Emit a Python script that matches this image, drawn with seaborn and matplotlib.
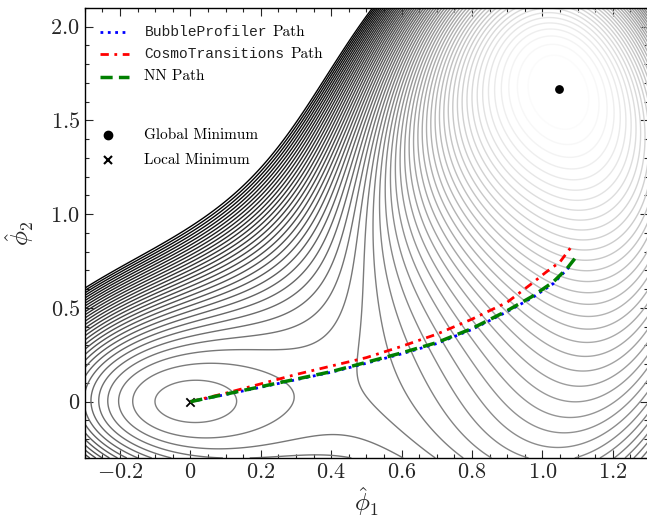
import numpy as np
import matplotlib
matplotlib.use("Agg")
import matplotlib.pyplot as plt
from matplotlib.ticker import MultipleLocator, FuncFormatter
from matplotlib.lines import Line2D
from matplotlib.offsetbox import AnchoredOffsetbox, VPacker, HPacker, TextArea, DrawingArea
import seaborn as sns

# --- potential parameters (V = (p1^2 + p2^2) * (a (p1-1)^2 + b (p2-1)^2 - delta)) ---
coef_a = 1.8
coef_b = 0.2
delta = 0.4

# --- tunnelling paths ---
bubble_x = [0, 0.1, 0.2, 0.3, 0.4, 0.5, 0.6, 0.7, 0.8, 0.9, 0.97, 1.03, 1.08]
bubble_y = [0, 0.038, 0.077, 0.117, 0.157, 0.205, 0.255, 0.31, 0.385, 0.48, 0.553, 0.628, 0.725]

cosmo_x = [0, 0.1, 0.2, 0.3, 0.4, 0.5, 0.6, 0.7, 0.8, 0.9, 0.97, 1.01, 1.05, 1.08]
cosmo_y = [0, 0.045, 0.095, 0.145, 0.19, 0.235, 0.295, 0.36, 0.44, 0.53, 0.63, 0.69, 0.745, 0.82]

nn_x = [0, 0.1, 0.2, 0.3, 0.4, 0.5, 0.6, 0.7, 0.8, 0.9, 0.97, 1.03, 1.07, 1.093]
nn_y = [0, 0.04, 0.08, 0.12, 0.16, 0.21, 0.26, 0.315, 0.39, 0.485, 0.56, 0.637, 0.71, 0.765]

global_min = (1.046, 1.665)
local_min = (0.0, 0.0)

sns.set_theme(style="ticks")
plt.rcParams["font.family"] = ["serif"]
plt.rcParams["font.serif"] = ["cmr10", "DejaVu Serif"]
plt.rcParams["mathtext.fontset"] = "cm"
plt.rcParams["axes.unicode_minus"] = False

fig, ax = plt.subplots(figsize=(6.47, 5.21), dpi=100)
fig.subplots_adjust(left=0.131, right=1.0015, top=0.985, bottom=0.121)

# contour field
g1 = np.linspace(-0.3, 1.3, 500)
g2 = np.linspace(-0.3, 2.1, 600)
P1, P2 = np.meshgrid(g1, g2)
V = (P1**2 + P2**2) * (coef_a * (P1 - 1)**2 + coef_b * (P2 - 1)**2 - delta)
levels = np.arange(-1.18, 1.23, 0.04)
ax.contour(P1, P2, V, levels=levels, cmap="gray_r", linewidths=1.0)

# paths
blue_ls = ":"
red_ls = (0, (3, 2, 1, 2))
green_ls = (0, (3.5, 1.8))
sns.lineplot(x=bubble_x, y=bubble_y, ax=ax, color="blue", linestyle=blue_ls, lw=2, sort=False, zorder=3)
sns.lineplot(x=cosmo_x, y=cosmo_y, ax=ax, color="red", linestyle=red_ls, lw=2, sort=False, zorder=3)
sns.lineplot(x=nn_x, y=nn_y, ax=ax, color="green", linestyle=green_ls, lw=2.5, sort=False, zorder=4)

# minima
ax.scatter([global_min[0]], [global_min[1]], color="black", marker="o", s=28, zorder=5)
ax.scatter([local_min[0]], [local_min[1]], color="black", marker="x", s=36, lw=1.3, zorder=2)

ax.set_xlim(-0.3, 1.3)
ax.set_ylim(-0.3, 2.1)

fmt = FuncFormatter(lambda v, pos: "$0$" if abs(v) < 1e-9 else "$%.1f$" % v)
ax.xaxis.set_major_locator(MultipleLocator(0.2))
ax.xaxis.set_minor_locator(MultipleLocator(0.05))
ax.yaxis.set_major_locator(MultipleLocator(0.5))
ax.yaxis.set_minor_locator(MultipleLocator(0.1))
ax.xaxis.set_major_formatter(fmt)
ax.yaxis.set_major_formatter(fmt)
ax.tick_params(which="both", direction="in", top=True, right=True, labelsize=16, width=0.8)
ax.tick_params(which="major", length=6)
ax.tick_params(which="minor", length=3)
for s in ax.spines.values():
    s.set_linewidth(1.0)
    s.set_color("black")

ax.set_xlabel(r"$\hat{\phi}_1$", fontsize=18, labelpad=2)
ax.set_ylabel(r"$\hat{\phi}_2$", fontsize=18, labelpad=10)

# legends: typewriter names + roman text, built from offset boxes
rm = dict(family="cmr10", size=11, color="black")
tt = dict(family="Liberation Mono", size=10.5, color="#222222")


def legend_row(handle, parts):
    da = DrawingArea(21, 10, 0, 0)
    da.add_artist(handle)
    words = HPacker(children=[TextArea(s, textprops=p) for s, p in parts],
                    align="baseline", pad=0, sep=4)
    return HPacker(children=[da, words], align="center", pad=0, sep=11)


path_rows = [
    legend_row(Line2D([0, 21], [5, 5], color="blue", linestyle=blue_ls, lw=2),
               [("BubbleProfiler", tt), ("Path", rm)]),
    legend_row(Line2D([0, 21], [5, 5], color="red", linestyle=red_ls, lw=2),
               [("CosmoTransitions", tt), ("Path", rm)]),
    legend_row(Line2D([0, 21], [5, 5], color="green", linestyle=green_ls, lw=2.5),
               [("NN Path", rm)]),
]
box1 = AnchoredOffsetbox(loc="upper left", child=VPacker(children=path_rows, align="left", pad=0, sep=6),
                         pad=0, borderpad=0, frameon=False,
                         bbox_to_anchor=(0.027, 0.962), bbox_transform=ax.transAxes)
ax.add_artist(box1)

min_rows = [
    legend_row(Line2D([5.5], [5], color="black", marker="o", linestyle="none", markersize=6),
               [("Global Minimum", rm)]),
    legend_row(Line2D([5.5], [5], color="black", marker="x", linestyle="none", markersize=6, mew=1.5),
               [("Local Minimum", rm)]),
]
box2 = AnchoredOffsetbox(loc="upper left", child=VPacker(children=min_rows, align="left", pad=0, sep=8),
                         pad=0, borderpad=0, frameon=False,
                         bbox_to_anchor=(0.027, 0.733), bbox_transform=ax.transAxes)
ax.add_artist(box2)

fig.savefig("out.png", dpi=100)
